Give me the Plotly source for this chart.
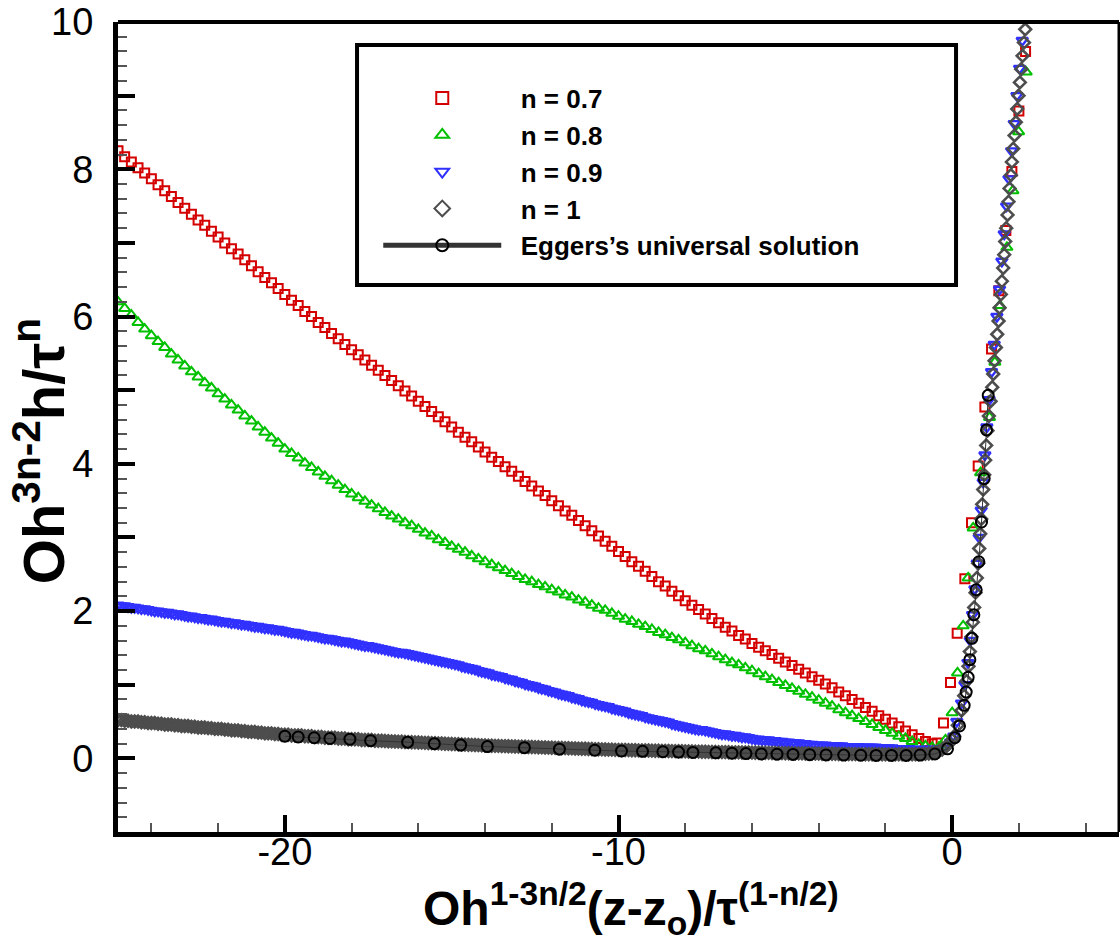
import plotly.graph_objects as go

# ---------------- data ----------------
# shared sample positions (left branch) for n = 0.7 and n = 0.8
x_coarse = [
    -25.0, -24.8, -24.6, -24.4, -24.2, -24.0, -23.8, -23.6, -23.4, -23.2,
    -23.0, -22.8, -22.6, -22.4, -22.2, -22.0, -21.8, -21.6, -21.4, -21.2,
    -21.0, -20.8, -20.6, -20.4, -20.2, -20.0, -19.8, -19.6, -19.4, -19.2,
    -19.0, -18.8, -18.6, -18.4, -18.2, -18.0, -17.8, -17.6, -17.4, -17.2,
    -17.0, -16.8, -16.6, -16.4, -16.2, -16.0, -15.8, -15.6, -15.4, -15.2,
    -15.0, -14.8, -14.6, -14.4, -14.2, -14.0, -13.8, -13.6, -13.4, -13.2,
    -13.0, -12.8, -12.6, -12.4, -12.2, -12.0, -11.8, -11.6, -11.4, -11.2,
    -11.0, -10.8, -10.6, -10.4, -10.2, -10.0, -9.8, -9.6, -9.4, -9.2,
    -9.0, -8.8, -8.6, -8.4, -8.2, -8.0, -7.8, -7.6, -7.4, -7.2,
    -7.0, -6.8, -6.6, -6.4, -6.2, -6.0, -5.8, -5.6, -5.4, -5.2,
    -5.0, -4.8, -4.6, -4.4, -4.2, -4.0, -3.8, -3.6, -3.4, -3.2,
    -3.0, -2.8, -2.6, -2.4, -2.2, -2.0, -1.8, -1.6, -1.4, -1.2,
    -1.0, -0.8, -0.6,
]

# shared sample positions (left branch) for n = 0.9 and n = 1
x_fine = [
    -25.0, -24.9, -24.8, -24.7, -24.6, -24.5, -24.4, -24.3, -24.2, -24.1,
    -24.0, -23.9, -23.8, -23.7, -23.6, -23.5, -23.4, -23.3, -23.2, -23.1,
    -23.0, -22.9, -22.8, -22.7, -22.6, -22.5, -22.4, -22.3, -22.2, -22.1,
    -22.0, -21.9, -21.8, -21.7, -21.6, -21.5, -21.4, -21.3, -21.2, -21.1,
    -21.0, -20.9, -20.8, -20.7, -20.6, -20.5, -20.4, -20.3, -20.2, -20.1,
    -20.0, -19.9, -19.8, -19.7, -19.6, -19.5, -19.4, -19.3, -19.2, -19.1,
    -19.0, -18.9, -18.8, -18.7, -18.6, -18.5, -18.4, -18.3, -18.2, -18.1,
    -18.0, -17.9, -17.8, -17.7, -17.6, -17.5, -17.4, -17.3, -17.2, -17.1,
    -17.0, -16.9, -16.8, -16.7, -16.6, -16.5, -16.4, -16.3, -16.2, -16.1,
    -16.0, -15.9, -15.8, -15.7, -15.6, -15.5, -15.4, -15.3, -15.2, -15.1,
    -15.0, -14.9, -14.8, -14.7, -14.6, -14.5, -14.4, -14.3, -14.2, -14.1,
    -14.0, -13.9, -13.8, -13.7, -13.6, -13.5, -13.4, -13.3, -13.2, -13.1,
    -13.0, -12.9, -12.8, -12.7, -12.6, -12.5, -12.4, -12.3, -12.2, -12.1,
    -12.0, -11.9, -11.8, -11.7, -11.6, -11.5, -11.4, -11.3, -11.2, -11.1,
    -11.0, -10.9, -10.8, -10.7, -10.6, -10.5, -10.4, -10.3, -10.2, -10.1,
    -10.0, -9.9, -9.8, -9.7, -9.6, -9.5, -9.4, -9.3, -9.2, -9.1,
    -9.0, -8.9, -8.8, -8.7, -8.6, -8.5, -8.4, -8.3, -8.2, -8.1,
    -8.0, -7.9, -7.8, -7.7, -7.6, -7.5, -7.4, -7.3, -7.2, -7.1,
    -7.0, -6.9, -6.8, -6.7, -6.6, -6.5, -6.4, -6.3, -6.2, -6.1,
    -6.0, -5.9, -5.8, -5.7, -5.6, -5.5, -5.4, -5.3, -5.2, -5.1,
    -5.0, -4.9, -4.8, -4.7, -4.6, -4.5, -4.4, -4.3, -4.2, -4.1,
    -4.0, -3.9, -3.8, -3.7, -3.6, -3.5, -3.4, -3.3, -3.2, -3.1,
    -3.0, -2.9, -2.8, -2.7, -2.6, -2.5, -2.4, -2.3, -2.2, -2.1,
    -2.0, -1.9, -1.8, -1.7, -1.6, -1.5, -1.4, -1.3, -1.2, -1.1,
    -1.0, -0.9, -0.8, -0.7, -0.6, -0.5,
]

# n = 0.7
red_y_left = [
    8.25, 8.17, 8.10, 8.02, 7.95, 7.87, 7.79, 7.71, 7.63, 7.55,
    7.47, 7.39, 7.31, 7.24, 7.16, 7.08, 7.00, 6.92, 6.85, 6.77,
    6.69, 6.61, 6.53, 6.46, 6.38, 6.30, 6.22, 6.15, 6.07, 6.00,
    5.92, 5.85, 5.77, 5.70, 5.62, 5.55, 5.48, 5.41, 5.34, 5.27,
    5.20, 5.13, 5.06, 4.99, 4.92, 4.85, 4.78, 4.71, 4.64, 4.57,
    4.50, 4.43, 4.36, 4.30, 4.23, 4.16, 4.09, 4.03, 3.96, 3.90,
    3.83, 3.76, 3.70, 3.63, 3.57, 3.50, 3.43, 3.36, 3.30, 3.23,
    3.16, 3.09, 3.02, 2.95, 2.88, 2.81, 2.74, 2.67, 2.61, 2.54,
    2.47, 2.40, 2.34, 2.27, 2.21, 2.14, 2.08, 2.02, 1.96, 1.90,
    1.84, 1.78, 1.73, 1.67, 1.62, 1.56, 1.51, 1.46, 1.41, 1.36,
    1.31, 1.26, 1.21, 1.16, 1.11, 1.06, 1.01, 0.96, 0.90, 0.85,
    0.80, 0.75, 0.69, 0.64, 0.58, 0.53, 0.48, 0.43, 0.37, 0.32,
    0.27, 0.23, 0.20,
]
red_x_right = [-0.45, -0.26, -0.05, 0.15, 0.38, 0.58, 0.78, 0.98, 1.18, 1.40, 1.61, 1.79, 2.00, 2.20]
red_y_right = [0.21, 0.48, 1.03, 1.70, 2.44, 3.20, 3.97, 4.77, 5.56, 6.35, 7.17, 7.97, 8.79, 9.60]

# n = 0.8
green_y_left = [
    6.20, 6.11, 6.02, 5.92, 5.83, 5.74, 5.66, 5.58, 5.49, 5.41,
    5.33, 5.25, 5.18, 5.10, 5.03, 4.95, 4.88, 4.80, 4.73, 4.65,
    4.58, 4.50, 4.43, 4.35, 4.28, 4.20, 4.14, 4.08, 4.01, 3.95,
    3.89, 3.83, 3.77, 3.71, 3.65, 3.59, 3.54, 3.49, 3.44, 3.39,
    3.34, 3.29, 3.25, 3.20, 3.16, 3.11, 3.06, 3.02, 2.97, 2.93,
    2.88, 2.84, 2.80, 2.75, 2.71, 2.67, 2.63, 2.59, 2.55, 2.51,
    2.47, 2.43, 2.40, 2.36, 2.33, 2.29, 2.26, 2.22, 2.19, 2.15,
    2.12, 2.08, 2.04, 2.01, 1.97, 1.93, 1.89, 1.86, 1.82, 1.79,
    1.75, 1.71, 1.68, 1.64, 1.61, 1.57, 1.53, 1.49, 1.46, 1.42,
    1.38, 1.34, 1.30, 1.27, 1.23, 1.19, 1.15, 1.11, 1.07, 1.03,
    0.99, 0.95, 0.91, 0.87, 0.83, 0.79, 0.75, 0.71, 0.66, 0.62,
    0.58, 0.54, 0.50, 0.46, 0.42, 0.38, 0.34, 0.30, 0.27, 0.23,
    0.19, 0.17, 0.15,
]
green_x_right = [-0.40, -0.20, 0.00, 0.16, 0.33, 0.48, 0.63, 0.85, 1.12, 1.28, 1.43, 1.64, 1.82, 1.99, 2.22]
green_y_right = [0.15, 0.25, 0.62, 1.16, 1.80, 2.45, 3.13, 3.88, 4.63, 5.38, 6.15, 6.94, 7.71, 8.51, 9.32]

# n = 0.9
blue_y_left = [
    2.08, 2.07, 2.07, 2.06, 2.05, 2.05, 2.04, 2.03, 2.03, 2.02,
    2.01, 2.00, 2.00, 1.99, 1.98, 1.98, 1.97, 1.96, 1.96, 1.95,
    1.94, 1.93, 1.93, 1.92, 1.91, 1.91, 1.90, 1.89, 1.89, 1.88,
    1.87, 1.86, 1.86, 1.85, 1.84, 1.84, 1.83, 1.82, 1.82, 1.81,
    1.80, 1.79, 1.79, 1.78, 1.77, 1.77, 1.76, 1.75, 1.75, 1.74,
    1.73, 1.72, 1.71, 1.71, 1.70, 1.69, 1.68, 1.67, 1.67, 1.66,
    1.65, 1.64, 1.63, 1.63, 1.62, 1.61, 1.60, 1.59, 1.59, 1.58,
    1.57, 1.56, 1.55, 1.54, 1.53, 1.53, 1.52, 1.51, 1.50, 1.49,
    1.48, 1.47, 1.46, 1.45, 1.44, 1.44, 1.43, 1.42, 1.41, 1.40,
    1.39, 1.38, 1.37, 1.36, 1.35, 1.34, 1.33, 1.32, 1.31, 1.30,
    1.29, 1.28, 1.27, 1.25, 1.24, 1.23, 1.22, 1.21, 1.19, 1.18,
    1.17, 1.16, 1.14, 1.13, 1.12, 1.11, 1.09, 1.08, 1.07, 1.05,
    1.04, 1.03, 1.01, 1.00, 0.99, 0.98, 0.96, 0.95, 0.94, 0.92,
    0.91, 0.90, 0.88, 0.87, 0.86, 0.85, 0.83, 0.82, 0.81, 0.79,
    0.78, 0.77, 0.76, 0.74, 0.73, 0.72, 0.71, 0.70, 0.68, 0.67,
    0.66, 0.65, 0.64, 0.62, 0.61, 0.60, 0.59, 0.58, 0.56, 0.55,
    0.54, 0.53, 0.52, 0.51, 0.50, 0.49, 0.47, 0.46, 0.45, 0.44,
    0.43, 0.42, 0.41, 0.40, 0.39, 0.39, 0.38, 0.37, 0.36, 0.35,
    0.34, 0.33, 0.33, 0.32, 0.31, 0.31, 0.30, 0.29, 0.29, 0.28,
    0.27, 0.26, 0.26, 0.25, 0.25, 0.25, 0.24, 0.24, 0.23, 0.23,
    0.22, 0.22, 0.21, 0.21, 0.21, 0.20, 0.20, 0.19, 0.19, 0.18,
    0.18, 0.18, 0.18, 0.17, 0.17, 0.17, 0.17, 0.17, 0.16, 0.16,
    0.16, 0.16, 0.16, 0.15, 0.15, 0.15, 0.15, 0.15, 0.14, 0.14,
    0.14, 0.14, 0.14, 0.13, 0.13, 0.13, 0.13, 0.13, 0.12, 0.12,
    0.12, 0.12, 0.12, 0.12, 0.12, 0.12,
]
blue_x_right = [-0.30, -0.05, 0.05, 0.14, 0.28, 0.38, 0.47, 0.54, 0.61, 0.68,
                0.75, 0.81, 0.87, 0.93, 0.98, 1.04, 1.11, 1.18, 1.26, 1.34,
                1.42, 1.49, 1.56, 1.63, 1.70, 1.78, 1.86, 1.94, 2.02, 2.10]
blue_y_right = [0.13, 0.22, 0.30, 0.50, 0.75, 1.00, 1.30, 1.60, 1.95, 2.30,
                2.65, 3.00, 3.37, 3.75, 4.12, 4.50, 4.87, 5.25, 5.62, 6.00,
                6.37, 6.75, 7.12, 7.50, 7.87, 8.25, 8.62, 9.00, 9.37, 9.75]

# n = 1
gray_y_left = [
    0.52, 0.52, 0.51, 0.51, 0.50, 0.50, 0.50, 0.49, 0.49, 0.48,
    0.48, 0.48, 0.47, 0.47, 0.46, 0.46, 0.46, 0.45, 0.45, 0.44,
    0.44, 0.44, 0.43, 0.43, 0.42, 0.42, 0.42, 0.41, 0.41, 0.40,
    0.40, 0.40, 0.39, 0.39, 0.38, 0.38, 0.38, 0.37, 0.37, 0.36,
    0.36, 0.36, 0.35, 0.35, 0.34, 0.34, 0.34, 0.33, 0.33, 0.32,
    0.32, 0.32, 0.31, 0.31, 0.31, 0.31, 0.30, 0.30, 0.30, 0.29,
    0.29, 0.29, 0.28, 0.28, 0.28, 0.28, 0.27, 0.27, 0.27, 0.26,
    0.26, 0.26, 0.26, 0.25, 0.25, 0.25, 0.25, 0.24, 0.24, 0.24,
    0.235, 0.233, 0.231, 0.229, 0.227, 0.225, 0.223, 0.221, 0.219, 0.217,
    0.215, 0.213, 0.211, 0.209, 0.207, 0.205, 0.203, 0.201, 0.199, 0.197,
    0.195, 0.193, 0.191, 0.189, 0.187, 0.185, 0.183, 0.181, 0.179, 0.177,
    0.175, 0.173, 0.172, 0.170, 0.169, 0.167, 0.166, 0.164, 0.163, 0.161,
    0.160, 0.158, 0.157, 0.155, 0.154, 0.152, 0.151, 0.149, 0.148, 0.146,
    0.145, 0.143, 0.142, 0.140, 0.139, 0.137, 0.136, 0.134, 0.133, 0.131,
    0.130, 0.128, 0.127, 0.125, 0.124, 0.122, 0.121, 0.119, 0.118, 0.116,
    0.115, 0.114, 0.113, 0.112, 0.111, 0.110, 0.109, 0.108, 0.107, 0.106,
    0.105, 0.104, 0.103, 0.102, 0.101, 0.100, 0.099, 0.098, 0.097, 0.096,
    0.095, 0.094, 0.093, 0.092, 0.091, 0.090, 0.089, 0.088, 0.087, 0.086,
    0.085, 0.084, 0.084, 0.083, 0.082, 0.082, 0.081, 0.080, 0.080, 0.079,
    0.078, 0.077, 0.076, 0.076, 0.075, 0.074, 0.073, 0.072, 0.072, 0.071,
    0.070, 0.069, 0.069, 0.068, 0.068, 0.067, 0.066, 0.066, 0.065, 0.065,
    0.064, 0.063, 0.063, 0.062, 0.062, 0.061, 0.060, 0.060, 0.059, 0.059,
    0.058, 0.058, 0.057, 0.057, 0.056, 0.056, 0.056, 0.055, 0.055, 0.054,
    0.054, 0.054, 0.054, 0.054, 0.055, 0.055, 0.055, 0.055, 0.055, 0.056,
    0.056, 0.058, 0.061, 0.065, 0.070, 0.080,
]
gray_x_right = [-0.40, -0.30, -0.20, -0.10, 0.00, 0.06,
                0.17, 0.28, 0.36, 0.43, 0.49, 0.53, 0.58, 0.62, 0.66, 0.70,
                0.74, 0.78, 0.81, 0.84, 0.87, 0.90, 0.93, 0.96, 0.99, 1.02,
                1.06, 1.10, 1.15,
                1.20, 1.23, 1.27, 1.31, 1.35, 1.39, 1.42, 1.46, 1.49, 1.53,
                1.56, 1.59, 1.62, 1.66, 1.69, 1.72, 1.76, 1.79, 1.83, 1.87,
                1.91, 1.95, 1.99, 2.03, 2.07, 2.11, 2.15, 2.19]
gray_y_right = [0.095, 0.12, 0.15, 0.20, 0.25, 0.30,
                0.45, 0.65, 0.85, 1.05, 1.25, 1.45, 1.65, 1.85, 2.05, 2.25,
                2.45, 2.65, 2.85, 3.05, 3.25, 3.45, 3.65, 3.85, 4.05, 4.25,
                4.45, 4.65, 4.85,
                5.04, 5.22, 5.40, 5.58, 5.76, 5.94, 6.12, 6.30, 6.48, 6.66,
                6.84, 7.02, 7.20, 7.38, 7.56, 7.74, 7.92, 8.10, 8.28, 8.46,
                8.64, 8.82, 9.00, 9.18, 9.36, 9.54, 9.72, 9.90]

# Eggers's universal solution
eggers_x = [-20.0, -19.6, -19.12, -18.65, -18.05, -17.43, -16.32, -15.52, -14.73, -13.93,
            -12.82, -11.77, -10.71, -9.91, -9.28, -8.67, -8.20, -7.77, -7.08, -6.60,
            -6.18, -5.72, -5.25, -4.77, -4.27, -3.78, -3.25, -2.74, -2.28, -1.82,
            -1.38, -0.96, -0.52, -0.14, 0.08, 0.22, 0.36, 0.42, 0.48, 0.53,
            0.59, 0.65, 0.72, 0.80, 0.88, 0.96, 1.03, 1.08]
eggers_y = [0.30, 0.29, 0.28, 0.27, 0.26, 0.24, 0.22, 0.20, 0.18, 0.16,
            0.145, 0.125, 0.11, 0.10, 0.095, 0.09, 0.085, 0.08, 0.075, 0.07,
            0.065, 0.06, 0.057, 0.054, 0.05, 0.047, 0.044, 0.042, 0.04, 0.04,
            0.04, 0.045, 0.06, 0.13, 0.28, 0.44, 0.72, 0.90, 1.10, 1.34,
            1.63, 1.95, 2.29, 2.67, 3.21, 3.80, 4.46, 4.93]

series_names = ["n = 0.7", "n = 0.8", "n = 0.9", "n = 1", "Eggers\u2019s universal solution"]

x_tick_vals = [-20, -10, 0]
x_tick_text = ["-20", "-10", "0"]
y_tick_vals = [0, 1, 2, 3, 4, 5, 6, 7, 8, 9, 10]
y_tick_text = ["0", " ", "2", " ", "4", " ", "6", " ", "8", " ", "10"]

x_title = "<b>Oh<sup>1-3n/2</sup>(z-z<sub>o</sub>)/\u03c4<sup>(1-n/2)</sup></b>"
y_title = "<b>Oh<sup>3n-2</sup>h/\u03c4<sup>n</sup></b>"

# ---------------- figure ----------------
FONT = "Liberation Sans, Arial, Helvetica, sans-serif"
PAD = "\u00a0\u00a0"

fig = go.Figure()

fig.add_trace(go.Scatter(
    x=x_coarse + red_x_right, y=red_y_left + red_y_right, mode="markers",
    name=PAD + "<b>" + series_names[0] + "</b>",
    marker=dict(symbol="square-open", size=9, color="#d40000", line=dict(width=2))))
fig.add_trace(go.Scatter(
    x=x_coarse + green_x_right, y=green_y_left + green_y_right, mode="markers",
    name=PAD + "<b>" + series_names[1] + "</b>",
    marker=dict(symbol="triangle-up-open", size=10, color="#00c000", line=dict(width=2))))
fig.add_trace(go.Scatter(
    x=x_fine + blue_x_right, y=blue_y_left + blue_y_right, mode="markers",
    name=PAD + "<b>" + series_names[2] + "</b>",
    marker=dict(symbol="triangle-down-open", size=10, color="#3030ff", line=dict(width=2.4))))
fig.add_trace(go.Scatter(
    x=x_fine + gray_x_right, y=gray_y_left + gray_y_right, mode="markers",
    name=PAD + "<b>" + series_names[3] + "</b>",
    marker=dict(symbol="diamond-open", size=9, color="#4d4d4d", line=dict(width=2.6))))
fig.add_trace(go.Scatter(
    x=eggers_x, y=eggers_y, mode="lines+markers",
    name=PAD + "<b>" + series_names[4] + "</b>",
    line=dict(color="#333333", width=1),
    marker=dict(symbol="circle-open", size=11, color="black", line=dict(width=2))))

axis_common = dict(
    showline=True, linewidth=5, linecolor="black", mirror=False,
    showgrid=False, zeroline=False, automargin=False,
    ticks="inside", tickcolor="black", tickwidth=4, ticklen=17,
    tickfont=dict(family=FONT, size=38, color="black"),
)

fig.update_layout(
    width=1120, height=939,
    margin=dict(l=118, r=1, t=22, b=107, autoexpand=False),
    paper_bgcolor="white", plot_bgcolor="white",
    font=dict(family=FONT, color="black"),
    showlegend=True,
    legend=dict(
        x=0.260, y=0.935, xanchor="left", yanchor="top",
        bgcolor="rgba(0,0,0,0)", borderwidth=0,
        font=dict(family=FONT, size=26, color="black"),
        itemwidth=118, itemsizing="constant", tracegroupgap=0,
    ),
    xaxis=dict(
        range=[-25, 5], tickmode="array", tickvals=x_tick_vals, ticktext=x_tick_text,
        minor=dict(tickmode="linear", tick0=0, dtick=2, ticks="inside",
                   ticklen=9, tickwidth=1.5, tickcolor="#555555", showgrid=False),
        ticklabelstandoff=-18,
        **axis_common,
    ),
    yaxis=dict(
        range=[-1, 10], tickmode="array", tickvals=y_tick_vals, ticktext=y_tick_text,
        minor=dict(tickmode="linear", tick0=0, dtick=0.2, ticks="inside",
                   ticklen=9, tickwidth=1.5, tickcolor="#555555", showgrid=False),
        ticklabelstandoff=12,
        **axis_common,
    ),
    annotations=[
        dict(text=x_title, xref="paper", yref="paper", x=0.512, y=-0.094,
             xanchor="center", yanchor="middle", showarrow=False,
             font=dict(family=FONT, size=48, color="black")),
        dict(text=y_title, xref="paper", yref="paper", x=-0.079, y=0.47,
             xanchor="center", yanchor="middle", showarrow=False, textangle=-90,
             font=dict(family=FONT, size=58, color="black")),
    ],
    shapes=[
        dict(type="line", xref="paper", yref="paper", x0=0, x1=1, y0=1, y1=1,
             line=dict(color="black", width=4)),
        dict(type="line", xref="paper", yref="paper", x0=1, x1=1, y0=0, y1=1,
             line=dict(color="black", width=3)),
        dict(type="rect", xref="paper", yref="paper",
             x0=0.2388, x1=0.8372, y0=0.6753, y1=0.9716,
             line=dict(color="black", width=4), fillcolor="rgba(0,0,0,0)"),
    ],
)

fig.write_html("out.html")
